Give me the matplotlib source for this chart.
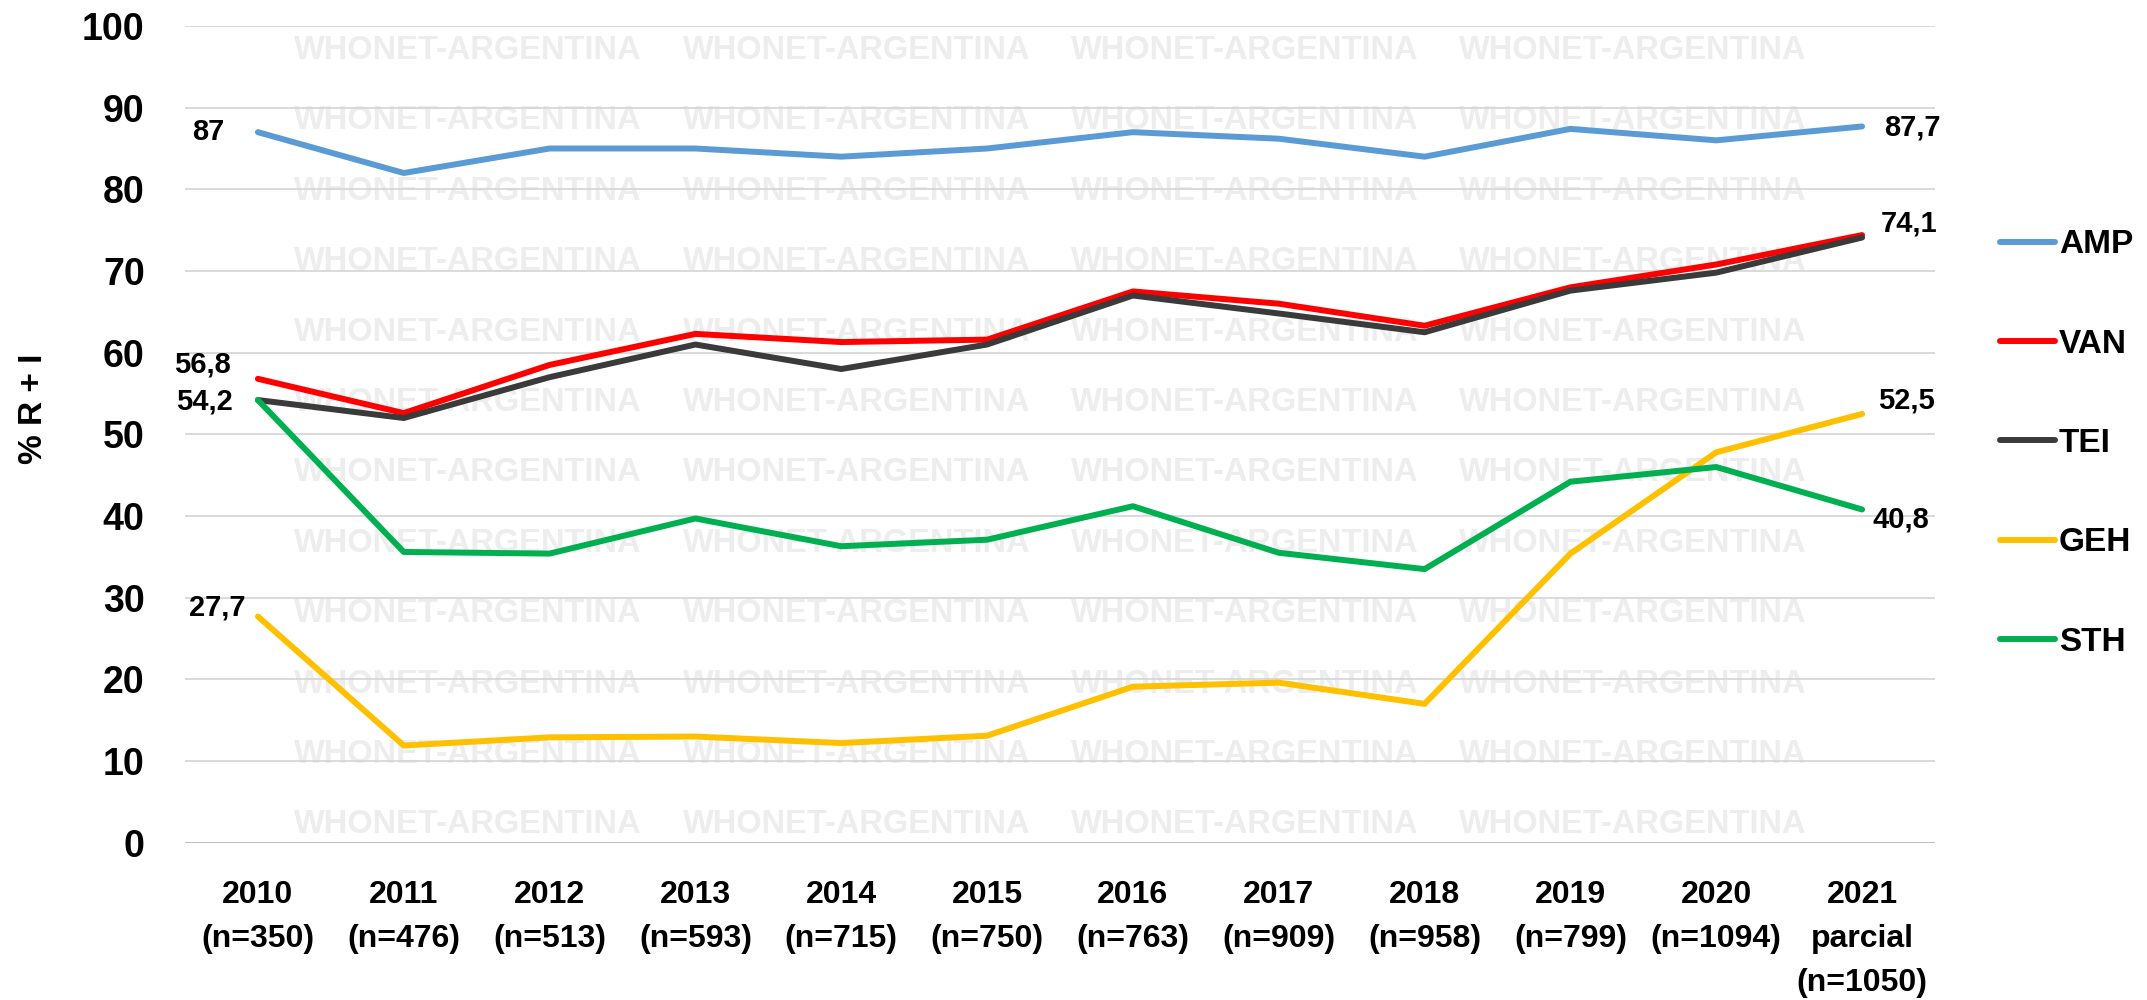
import matplotlib
matplotlib.use("Agg")
import matplotlib.pyplot as plt

plt.rcParams['font.family'] = ['Liberation Sans', 'DejaVu Sans']
plt.rcParams['font.weight'] = 'bold'

# data
years = ["2010\n(n=350)", "2011\n(n=476)", "2012\n(n=513)", "2013\n(n=593)",
         "2014\n(n=715)", "2015\n(n=750)", "2016\n(n=763)", "2017\n(n=909)",
         "2018\n(n=958)", "2019\n(n=799)", "2020\n(n=1094)", "2021\nparcial\n(n=1050)"]
amp = [87, 82, 85, 85, 84, 85, 87, 86.2, 84, 87.4, 86, 87.7]
van = [56.8, 52.6, 58.5, 62.3, 61.3, 61.6, 67.5, 66.0, 63.3, 68.0, 70.8, 74.4]
tei = [54.2, 52.0, 57.0, 61.0, 58.0, 61.0, 67.0, 64.8, 62.5, 67.6, 69.8, 74.1]
geh = [27.7, 11.9, 12.9, 13.0, 12.2, 13.1, 19.1, 19.6, 17.0, 35.4, 47.8, 52.5]
sth = [54.2, 35.6, 35.4, 39.7, 36.3, 37.1, 41.2, 35.5, 33.5, 44.2, 46.0, 40.8]

names = ["AMP", "VAN", "TEI", "GEH", "STH"]
colors = ["#5B9BD5", "#FF0000", "#3A3A3A", "#FFC000", "#00B050"]
series = [amp, van, tei, geh, sth]

fig = plt.figure(figsize=(21.47, 10), dpi=100)
ax = fig.add_axes([185 / 2147, 1 - 842.7 / 1000, 1750 / 2147, 816.7 / 1000])

x = list(range(len(years)))
for vals, name, col in zip(series, names, colors):
    ax.plot(x, vals, color=col, lw=4.3, label=name, solid_capstyle='round',
            solid_joinstyle='round', zorder=3)

ax.set_xlim(-0.5, len(years) - 0.5)
ax.set_ylim(0, 100)
ax.set_yticks(range(0, 101, 10))
ax.set_xticks(x)
ax.set_xticklabels(years, fontsize=23, fontweight='bold', linespacing=1.6)
ax.tick_params(axis='x', length=0, pad=27)
ax.tick_params(axis='y', length=0, pad=29, labelsize=27)
for lab in ax.get_yticklabels():
    lab.set_fontweight('bold')

for s in ax.spines.values():
    s.set_visible(False)
ax.set_axisbelow(True)
ax.grid(axis='y', color='#D4D4D4', lw=1.2)
ax.axhline(0, color='#BDBDBD', lw=1.4, zorder=1)

# watermark
for cx in [0.1617, 0.384, 0.6057, 0.827]:
    for i in range(12):
        yy = (842.7 - (50.5 + 70.4 * i)) / 816.7
        ax.text(cx, yy, "WHONET-ARGENTINA", transform=ax.transAxes,
                ha='center', va='center', fontsize=23.5, fontweight='bold',
                color='#EDEDED', zorder=0.1)

# data labels
labels = [
    (amp, 0, "87", (-23.8, 0), 'right'),
    (van, 0, "56,8", (-19.4, 10), 'right'),
    (tei, 0, "54,2", (-18, -1.4), 'right'),
    (geh, 0, "27,7", (-8.6, 6.3), 'right'),
    (amp, 11, "87,7", (15.8, -1), 'left'),
    (tei, 11, "74,1", (13.7, 10.4), 'left'),
    (geh, 11, "52,5", (11.5, 10), 'left'),
    (sth, 11, "40,8", (7.2, -7.5), 'left'),
]
for vals, i, txt, off, ha in labels:
    ax.annotate(txt, (x[i], vals[i]), xytext=off, textcoords='offset points',
                ha=ha, va='center', fontsize=21, fontweight='bold', color='black')

fig.text(33 / 2147, 1 - 409 / 1000, "% R + I", rotation=90, ha='center',
         va='center', fontsize=24, fontweight='bold')

leg = ax.legend(loc='center left', bbox_to_anchor=(2000 / 2147, 1 - 443.4 / 1000),
                bbox_transform=fig.transFigure, frameon=False, fontsize=24,
                handlelength=1.65, handletextpad=0.12, labelspacing=2.05,
                borderpad=0, borderaxespad=0)
for t in leg.get_texts():
    t.set_fontweight('bold')

fig.savefig("out.png", dpi=100)
